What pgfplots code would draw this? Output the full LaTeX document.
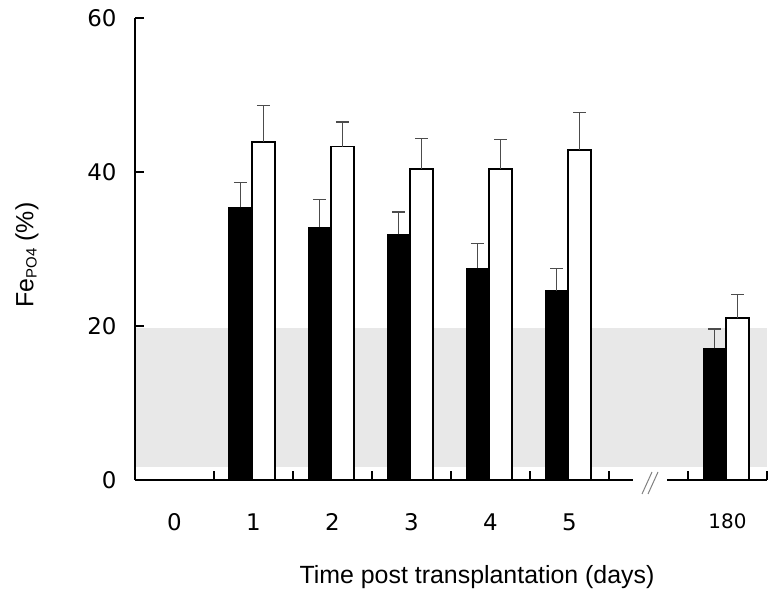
\documentclass[border=0pt]{standalone}
\usepackage{pgfplots}
\usepackage{pgfplotstable}
\pgfplotsset{compat=1.18}
\usepackage{fontspec}
\setmainfont{Liberation Sans}
\newfontfamily\tickfont{DejaVu Sans}

% day position (180 d sits at 7, after the axis break), mean, upper error
\pgfplotstableread{
x  v     e
1  35.4  3.2
2  32.8  3.6
3  31.9  2.9
4  27.5  3.2
5  24.6  2.9
7  17.1  2.5
}\blackdata
\pgfplotstableread{
x  v     e
1  43.9  4.7
2  43.3  3.2
3  40.4  4.0
4  40.4  3.8
5  42.9  4.8
7  21.0  3.1
}\whitedata

\begin{document}
\begin{tikzpicture}
\begin{axis}[
  at={(0,0)}, anchor=south west,
  scale only axis,
  width=632bp, height=462bp,
  xmin=-0.5, xmax=7.5,
  ymin=0, ymax=60,
  set layers,
  clip=false,
  ybar=0pt, bar width=23bp,
  axis y line*=left,
  axis x line*=bottom,
  x axis line style={draw=none},
  y axis line style={line width=1.8bp},
  ytick={0,20,40,60},
  yticklabels={0,20,40,60},
  tick align=inside,
  major tick length=9bp,
  ytick style={line width=1.8bp, black},
  xtick={0,1,2,3,4,5,7},
  xticklabels={0,1,2,3,4,5,{\fontsize{20}{20}\selectfont 180}},
  major x tick style={draw=none},
  yticklabel style={font=\tickfont\fontsize{23}{23}\selectfont, xshift=-15bp},
  xticklabel style={font=\tickfont\fontsize{23}{23}\selectfont, yshift=-30bp},
]

\begin{pgfonlayer}{axis background}
\fill[gray!18] (axis cs:-0.5,1.7) rectangle (axis cs:7.5,19.7);
\end{pgfonlayer}

\addplot[fill=black, draw=black, line width=1bp, bar shift=-13bp,
  error bars/.cd, y dir=plus, y explicit,
  error bar style={line width=1.2bp, black!70},
  error mark options={rotate=90, mark size=6.5bp, line width=1.2bp, black!70}]
  table[x=x, y=v, y error=e] {\blackdata};

\addplot[fill=white, draw=black, line width=1.8bp, bar shift=10bp,
  error bars/.cd, y dir=plus, y explicit,
  error bar style={line width=1.2bp, black!70},
  error mark options={rotate=90, mark size=6.5bp, line width=1.2bp, black!70}]
  table[x=x, y=v, y error=e] {\whitedata};
\end{axis}

% broken x axis, 79bp per day, with upward ticks between the days
\draw[line width=1.8bp] (0bp,0bp) -- (498bp,0bp);
\draw[line width=1.8bp] (532bp,0bp) -- (632bp,0bp);
\foreach \k in {1,...,8}
  \draw[line width=1.6bp] (\k*79bp,0bp) -- (\k*79bp,9bp);
\draw[gray, line width=1bp] (507bp,-14bp) -- (517bp,8bp);
\draw[gray, line width=1bp] (513bp,-14bp) -- (523bp,8bp);

\node[font=\fontsize{25}{25}\selectfont] at (342bp,-97bp) {Time post transplantation (days)};
\node[rotate=90, font=\fontsize{25}{25}\selectfont] at (-108bp,225bp)
  {Fe{\fontsize{15}{15}\selectfont\raisebox{-0.4ex}{PO4}} (\%)};

\pgfresetboundingbox
\path[use as bounding box] (-135bp,-114bp) rectangle (644bp,480bp);
\end{tikzpicture}
\end{document}
